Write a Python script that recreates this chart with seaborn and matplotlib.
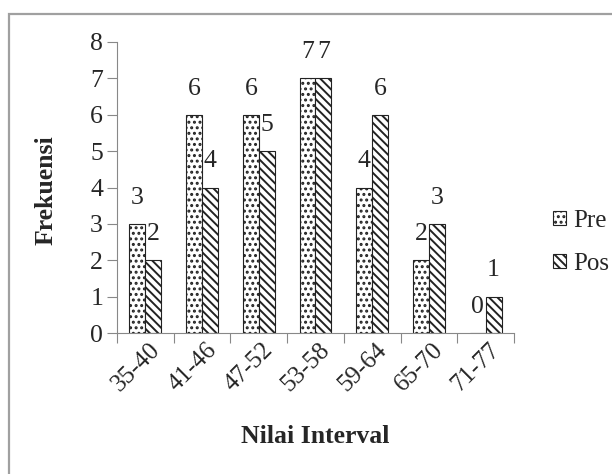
import numpy as np
import pandas as pd
import matplotlib
matplotlib.use("Agg")
import matplotlib.pyplot as plt
import matplotlib.transforms as mtransforms
from matplotlib.patches import Rectangle
import seaborn as sns

# data
intervals = ["35-40", "41-46", "47-52", "53-58", "59-64", "65-70", "71-77"]
pretest = [3, 6, 6, 7, 4, 2, 0]
posttest = [2, 4, 5, 7, 6, 3, 1]
groups = ["Pre", "Pos"]

df = pd.DataFrame({
    "Interval": intervals * 2,
    "Frekuensi": pretest + posttest,
    "Kelompok": [groups[0]] * len(intervals) + [groups[1]] * len(intervals),
})

sns.set_theme(style="white")
plt.rcParams['font.family'] = ['Liberation Serif', 'DejaVu Serif']
plt.rcParams['hatch.linewidth'] = 1.4

fig = plt.figure(figsize=(6.12, 4.74), dpi=100)
ax = fig.add_axes([117 / 612, 1 - 333 / 474, 397 / 612, 291 / 474])

sns.barplot(data=df, x="Interval", y="Frekuensi", hue="Kelompok", order=intervals,
            hue_order=groups, width=0.56, ax=ax, legend=False, saturation=1)

# bar styles: dotted for pre, dense diagonal for post
n = len(intervals)
hatches = ["...", "\\\\\\\\"]
for i, p in enumerate(ax.patches[:2 * n]):
    p.set_facecolor("white")
    p.set_edgecolor("#222222")
    p.set_linewidth(0.8)
    p.set_hatch(hatches[0] if i < n else hatches[1])

# value labels
for i, p in enumerate(ax.patches[:2 * n]):
    v = pretest[i] if i < n else posttest[i - n]
    ax.text(p.get_x() + p.get_width() / 2, v + 0.72, str(v), ha="center", va="center",
            fontsize=18.5)

ax.set_ylim(0, 8)
ax.set_xlim(-0.5, n - 0.5)
ax.set_yticks(range(0, 9))
ax.tick_params(axis="y", labelsize=18.5, length=7, width=0.8, color="#888888", left=True, pad=3)
ax.tick_params(axis="x", which="major", length=0, labelsize=18, pad=10)
ax.set_xticks(np.arange(-0.5, n), minor=True)
ax.tick_params(axis="x", which="minor", length=7, width=0.8, color="#888888", bottom=True)
shift = mtransforms.ScaledTranslation(11 / 100, 0, fig.dpi_scale_trans)
for lbl in ax.get_xticklabels():
    lbl.set_rotation(45)
    lbl.set_ha("right")
    lbl.set_va("center")
    lbl.set_rotation_mode("anchor")
    lbl.set_transform(lbl.get_transform() + shift)

for s in ["top", "right"]:
    ax.spines[s].set_visible(False)
for s in ["left", "bottom"]:
    ax.spines[s].set_color("#888888")
    ax.spines[s].set_linewidth(0.8)

ax.set_ylabel("Frekuensi", fontsize=18.5, fontweight="bold")
ax.yaxis.set_label_coords(-0.149, 0.49)
ax.set_xlabel("Nilai Interval", fontsize=18.5, fontweight="bold", va="center")
ax.xaxis.set_label_coords(0.5, -0.354)

# legend outside right
handles = [Rectangle((0, 0), 1, 1, facecolor="white", edgecolor="#222222", hatch=h, linewidth=0.8)
           for h in hatches]
fig.legend(handles, groups, loc="upper left", bbox_to_anchor=(553 / 612, 1 - 210 / 474),
           frameon=False, fontsize=18, handlelength=0.5, handleheight=0.5,
           labelspacing=0.85, handletextpad=0.3, borderaxespad=0, borderpad=0)

# outer chart frame
fig.patches.append(Rectangle((8.5 / 612, -0.1), 1.2, 1.1 - 13.7 / 474, transform=fig.transFigure,
                             fill=False, edgecolor="#a0a0a0", linewidth=1.6))

fig.savefig("out.png", dpi=100)
